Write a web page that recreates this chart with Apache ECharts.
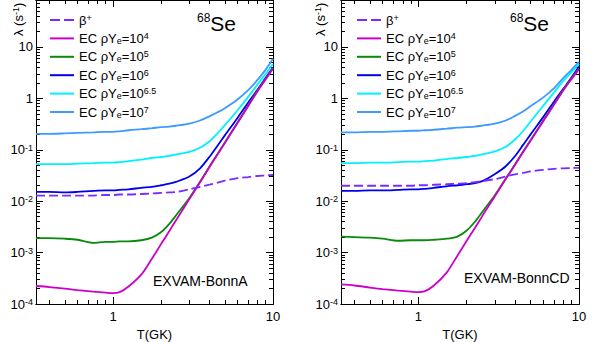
<!DOCTYPE html>
<html>
<head>
<meta charset="utf-8">
<script src="https://cdn.jsdelivr.net/npm/echarts@6/dist/echarts.min.js"></script>
<style>
html, body { margin: 0; padding: 0; background: #fff; }
#chart { width: 592px; height: 342px; }
</style>
</head>
<body>
<div id="chart"></div>
<script>
// temperature points, T in GK
var temps = [0.33, 0.4, 0.5, 0.6, 0.75, 0.9, 1.0, 1.1, 1.25, 1.5, 1.75, 2.0, 2.25, 2.5, 3.0, 3.5, 4.0, 4.5, 5.0, 6.0, 7.0, 8.0, 9.0, 10.0];

// log10 of the rate lambda (s^-1), left panel (EXVAM-BonnA)
var betaA  = [-1.89, -1.89, -1.89, -1.89, -1.89, -1.88, -1.88, -1.87, -1.87, -1.86, -1.85, -1.84, -1.83, -1.82, -1.77, -1.72, -1.68, -1.64, -1.60, -1.55, -1.53, -1.51, -1.50, -1.49];
var ec4A   = [-3.65, -3.67, -3.70, -3.73, -3.76, -3.78, -3.79, -3.77, -3.66, -3.43, -3.12, -2.83, -2.58, -2.35, -1.96, -1.63, -1.34, -1.09, -0.87, -0.48, -0.15, 0.14, 0.37, 0.58];
var ec5A   = [-2.72, -2.72, -2.73, -2.75, -2.81, -2.79, -2.79, -2.78, -2.78, -2.76, -2.71, -2.60, -2.44, -2.26, -1.94, -1.62, -1.33, -1.08, -0.86, -0.47, -0.14, 0.15, 0.38, 0.59];
var ec6A   = [-1.82, -1.82, -1.83, -1.82, -1.80, -1.79, -1.79, -1.78, -1.77, -1.74, -1.72, -1.69, -1.66, -1.62, -1.52, -1.36, -1.14, -0.92, -0.72, -0.38, -0.08, 0.17, 0.40, 0.60];
var ec65A  = [-1.28, -1.28, -1.28, -1.27, -1.26, -1.25, -1.25, -1.24, -1.22, -1.19, -1.16, -1.14, -1.12, -1.09, -1.04, -0.96, -0.84, -0.68, -0.52, -0.23, 0.03, 0.27, 0.48, 0.67];
var ec7A   = [-0.69, -0.69, -0.68, -0.67, -0.66, -0.65, -0.65, -0.64, -0.62, -0.60, -0.58, -0.56, -0.55, -0.53, -0.49, -0.43, -0.35, -0.27, -0.19, -0.02, 0.16, 0.36, 0.56, 0.77];

// log10 of the rate lambda (s^-1), right panel (EXVAM-BonnCD)
var betaB  = [-1.70, -1.70, -1.70, -1.70, -1.70, -1.70, -1.69, -1.69, -1.68, -1.67, -1.66, -1.65, -1.63, -1.61, -1.57, -1.52, -1.48, -1.45, -1.42, -1.39, -1.37, -1.36, -1.355, -1.35];
var ec4B   = [-3.62, -3.64, -3.68, -3.71, -3.74, -3.76, -3.77, -3.75, -3.64, -3.39, -3.06, -2.77, -2.52, -2.29, -1.90, -1.57, -1.29, -1.04, -0.82, -0.44, -0.12, 0.16, 0.38, 0.57];
var ec5B   = [-2.69, -2.70, -2.71, -2.73, -2.77, -2.76, -2.76, -2.76, -2.75, -2.73, -2.69, -2.57, -2.40, -2.21, -1.88, -1.56, -1.28, -1.03, -0.81, -0.43, -0.11, 0.17, 0.39, 0.58];
var ec6B   = [-1.80, -1.80, -1.79, -1.79, -1.78, -1.77, -1.77, -1.76, -1.74, -1.71, -1.69, -1.67, -1.65, -1.61, -1.47, -1.32, -1.12, -0.90, -0.70, -0.36, -0.06, 0.19, 0.41, 0.62];
var ec65B  = [-1.26, -1.26, -1.25, -1.25, -1.24, -1.23, -1.23, -1.22, -1.21, -1.18, -1.16, -1.14, -1.12, -1.09, -1.03, -0.94, -0.80, -0.63, -0.45, -0.14, 0.12, 0.34, 0.51, 0.67];
var ec7B   = [-0.66, -0.66, -0.65, -0.65, -0.64, -0.63, -0.63, -0.62, -0.61, -0.59, -0.57, -0.56, -0.55, -0.53, -0.49, -0.43, -0.34, -0.25, -0.15, 0.02, 0.20, 0.40, 0.56, 0.71];

var names = ['β+', 'EC ρYe=10^4', 'EC ρYe=10^5', 'EC ρYe=10^6', 'EC ρYe=10^6.5', 'EC ρYe=10^7'];
var colors = ['#7a2cff', '#cc00cc', '#0a8a0a', '#0000ee', '#00f0ff', '#3d9aff'];

// axis ticks (log10 units)
var xMajor = [0, 1];
var xMinorT = [0.4, 0.5, 0.6, 0.7, 0.8, 0.9, 2, 3, 4, 5, 6, 7, 8, 9];
var yMajor = [-4, -3, -2, -1, 0, 1];

var font = 'Liberation Sans, Arial, sans-serif';
var xMin = Math.log10(0.33), xMax = 1;
var yMin = -4, yMax = 1.914;

var xMinor = xMinorT.map(function (v) { return Math.log10(v); });
var yMinor = [];
for (var d = -4; d <= 1; d++) {
  for (var k = 2; k <= 9; k++) {
    var v = d + Math.log10(k);
    if (v < yMax) yMinor.push(v);
  }
}

var supRich = {
  sup: { fontSize: 9, lineHeight: 9, verticalAlign: 'top', fontFamily: font, color: '#000' },
  sub: { fontSize: 9, lineHeight: 9, verticalAlign: 'bottom', fontFamily: font, color: '#000' }
};

function xAxis(grid, pos, ticks, len, labels, name) {
  return {
    type: 'value', gridIndex: grid, position: pos, min: xMin, max: xMax,
    name: name || '', nameLocation: 'middle', nameGap: 19,
    nameTextStyle: { fontSize: 13, color: '#000', fontFamily: font },
    axisLine: { onZero: false, lineStyle: { color: '#000', width: 1 } },
    axisTick: { inside: true, length: len, customValues: ticks, lineStyle: { color: '#000' } },
    axisLabel: {
      show: !!labels, customValues: xMajor, margin: 6, fontSize: 13, color: '#000', fontFamily: font,
      formatter: function (v) { return Math.round(v) === 0 ? '1' : '10'; }
    },
    splitLine: { show: false }
  };
}

function yAxis(grid, pos, ticks, len, labels) {
  return {
    type: 'value', gridIndex: grid, position: pos, min: yMin, max: yMax,
    axisLine: { onZero: false, lineStyle: { color: '#000', width: 1 } },
    axisTick: { inside: true, length: len, customValues: ticks, lineStyle: { color: '#000' } },
    axisLabel: {
      show: !!labels, customValues: yMajor, margin: 3, fontSize: 13, color: '#000', fontFamily: font,
      rich: supRich,
      formatter: function (v) {
        var n = Math.round(v);
        if (n === 0) return '1';
        if (n === 1) return '10';
        return '10{sup|' + n + '}';
      }
    },
    splitLine: { show: false }
  };
}

function legendLabel(name) {
  if (name === 'β+') return 'β{sup|+}';
  return 'EC ρY{sub|e}=10{sup|' + name.split('^')[1] + '}';
}

var grids = [], xAxes = [], yAxes = [], series = [], legends = [];

function panel(left, width, curves, legendLeft) {
  var g = grids.length;
  grids.push({ left: left, top: 0, width: width, height: 304, outerBoundsMode: 'none' });
  grids.push({ left: left, top: 0, width: width, height: 304, outerBoundsMode: 'none' });
  var xi = xAxes.length, yi = yAxes.length;
  xAxes.push(xAxis(g, 'bottom', xMajor, 7, true, 'T(GK)'));
  xAxes.push(xAxis(g, 'top', xMajor, 7, false));
  xAxes.push(xAxis(g + 1, 'bottom', xMinor, 4, false));
  xAxes.push(xAxis(g + 1, 'top', xMinor, 4, false));
  yAxes.push(yAxis(g, 'left', yMajor, 7, true));
  yAxes.push(yAxis(g, 'right', yMajor, 7, false));
  yAxes.push(yAxis(g + 1, 'left', yMinor, 4, false));
  yAxes.push(yAxis(g + 1, 'right', yMinor, 4, false));
  curves.forEach(function (vals, i) {
    series.push({
      type: 'line', name: names[i], xAxisIndex: xi, yAxisIndex: yi,
      data: temps.map(function (t, j) { return [Math.log10(t), vals[j]]; }),
      symbol: 'none', smooth: 0.3, silent: true,
      lineStyle: { color: colors[i], width: 1.8, type: i === 0 ? [9, 4] : 'solid' },
      itemStyle: { color: colors[i] },
      z: 10 - i
    });
  });
  legends.push({
    left: legendLeft, top: 13, orient: 'vertical', padding: 0,
    itemWidth: 24, itemHeight: 2, itemGap: 4.4, selectedMode: false,
    icon: 'rect', itemStyle: { borderWidth: 0 },
    data: names.map(function (n, i) {
      return i === 0 ? { name: n, icon: 'path://M0,0h10v2h-10z M14,0h10v2h-10z' } : { name: n };
    }),
    formatter: legendLabel,
    textStyle: { fontSize: 13, lineHeight: 14, color: '#000', fontFamily: font, rich: supRich }
  });
}

panel(36, 237, [betaA, ec4A, ec5A, ec6A, ec65A, ec7A], 50);
panel(341, 238, [betaB, ec4B, ec5B, ec6B, ec65B, ec7B], 357);

function nucleus(left) {
  return {
    text: '{a|68}{b|Se}', left: left, top: 12, padding: 0,
    textStyle: {
      fontWeight: 'normal',
      rich: {
        a: { fontSize: 12, lineHeight: 12, verticalAlign: 'top', fontWeight: 'normal', color: '#000', fontFamily: font },
        b: { fontSize: 21, lineHeight: 22, fontWeight: 'normal', color: '#000', fontFamily: font }
      }
    }
  };
}

function modelTag(text, left, top) {
  return {
    text: text, left: left, top: top, padding: 0,
    textStyle: { fontSize: 14, fontWeight: 'normal', color: '#000', fontFamily: font }
  };
}

function yTitle(x) {
  return {
    type: 'text', x: x, y: 36, rotation: Math.PI / 2,
    style: {
      text: 'λ (s{sup|-1})', fontSize: 13, fill: '#000', fontFamily: font,
      align: 'left', verticalAlign: 'middle', rich: supRich
    }
  };
}

var chart = echarts.init(document.getElementById('chart'), null, { renderer: 'svg' });
chart.setOption({
  animation: false,
  backgroundColor: '#fff',
  title: [nucleus(197), nucleus(510), modelTag('EXVAM-BonnA', 153, 274), modelTag('EXVAM-BonnCD', 464, 271)],
  legend: legends,
  grid: grids,
  xAxis: xAxes,
  yAxis: yAxes,
  graphic: [yTitle(18), yTitle(320)],
  series: series
});
</script>
</body>
</html>
